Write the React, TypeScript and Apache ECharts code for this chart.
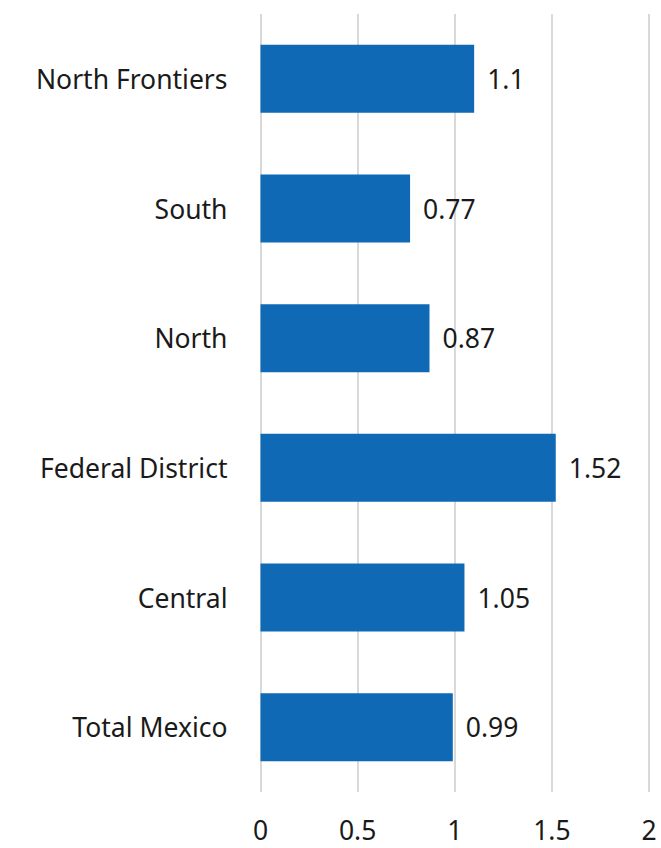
import React, { useEffect, useRef } from "react";
import * as echarts from "echarts";

const categories = ["Total Mexico", "Central", "Federal District", "North", "South", "North Frontiers"];
const values = [0.99, 1.05, 1.52, 0.87, 0.77, 1.1];
const xTicks = [0, 0.5, 1, 1.5, 2];

export default function App() {
  const ref = useRef<HTMLDivElement>(null);
  useEffect(() => {
    if (!ref.current) return;
    const chart = echarts.init(ref.current, null, { renderer: "svg" });
    const font = "'Noto Sans', sans-serif";
    const fs = 26.5;
    chart.setOption({
      animation: false,
      backgroundColor: "#ffffff",
      grid: { left: 260.5, right: 12, top: 14, bottom: 56, containLabel: false },
      xAxis: {
        type: "value",
        min: xTicks[0],
        max: xTicks[xTicks.length - 1],
        interval: 0.5,
        axisLine: { show: false },
        axisTick: { show: false },
        splitLine: { show: true, lineStyle: { color: "#d9d9d9", width: 2 } },
        axisLabel: { color: "#1a1a1a", fontSize: fs, fontFamily: font, margin: 25, lineHeight: 26 },
      },
      yAxis: {
        type: "category",
        data: categories,
        axisLine: { show: false },
        axisTick: { show: false },
        axisLabel: { color: "#1a1a1a", fontSize: fs, fontFamily: font, margin: 33, padding: [4, 0, 0, 0] },
      },
      series: [
        {
          type: "bar",
          data: values,
          barWidth: 68,
          itemStyle: { color: "#0F69B4" },
          label: {
            show: true,
            position: "right",
            distance: 13,
            color: "#1a1a1a",
            fontSize: fs,
            fontFamily: font,
            padding: [4, 0, 0, 0],
          },
        },
      ],
    });
    return () => chart.dispose();
  }, []);
  return <div ref={ref} style={{ position: "fixed", left: 0, top: 0, width: 661, height: 848 }} />;
}
